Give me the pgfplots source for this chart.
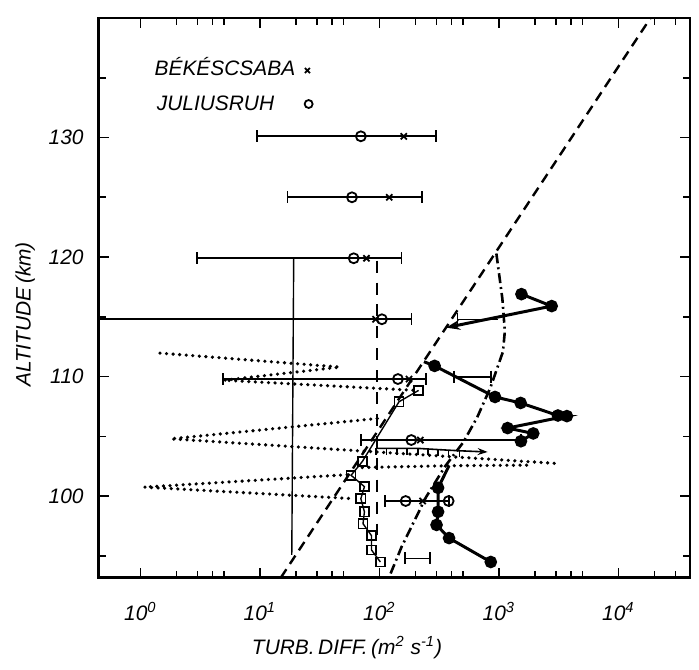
\documentclass[border=0pt]{standalone}
\usepackage{fontspec}
\setmainfont{Liberation Sans}
\usepackage{pgfplots}
\pgfplotsset{compat=1.18}
\usetikzlibrary{calc,arrows.meta}

\pgfplotsset{
  errbar/.style={black, line width=0.9pt, mark=|, mark size=3pt, mark options={solid,line width=0.9pt}},
  opencirc/.style={black, only marks, mark=o, mark size=2.5pt, mark options={fill=white,line width=0.9pt}},
  cross/.style={black, only marks, mark=x, mark size=2.2pt, mark options={line width=0.9pt}},
  filled/.style={black, line width=1.5pt, mark=*, mark size=2.4pt},
  dots/.style={black, line width=1.8pt, line cap=round, dash pattern=on 0pt off 3.3pt},
}

\begin{document}
\begin{tikzpicture}[font=\itshape]
\begin{axis}[
  scale only axis,
  width=297pt, height=281pt,
  xmode=log,
  xmin=0.447, xmax=39800,
  ymin=93.2, ymax=140,
  clip=false,
  axis line style={line width=1.1pt},
  tick align=inside,
  tick style={black, line width=0.8pt},
  major tick length=5pt,
  minor tick length=3.5pt,
  xtick={1,10,100,1000,10000},
  xticklabels={10\textsuperscript{0},10\textsuperscript{1},10\textsuperscript{2},10\textsuperscript{3},10\textsuperscript{4}},
  minor xtick={2,3,4,5,20,30,40,50,200,300,400,500,2000,3000,4000,5000,20000,30000},
  ytick={100,110,120,130},
  minor ytick={95,105,115,125,135},
  /pgf/number format/assume math mode=true,
  tick label style={font=\itshape\fontsize{10.5}{12}\selectfont},
  xticklabel style={yshift=-9pt},
  yticklabel style={xshift=-4pt},
  xlabel={TURB.\,DIFF.\,(m\textsuperscript{2} s\textsuperscript{-1})},
  ylabel={ALTITUDE\,(km)},
  label style={font=\itshape\fontsize{10.5}{12}\selectfont},
  xlabel style={at={(ticklabel cs:0.42)}, yshift=-1pt},
  ylabel style={at={(ticklabel cs:0.47)}},
]
\coordinate (sw) at (rel axis cs:0,0);
\coordinate (ne) at (rel axis cs:1,1);

% model profiles
\addplot[black, line width=1.2pt, dash pattern=on 5pt off 3.2pt] coordinates {(15,93.2) (18600,140)};
\addplot[black, line width=1.3pt, dash pattern=on 5pt off 2pt on 1pt off 2pt] coordinates {
  (953,120.3) (1069,116.55) (1122,113.8) (1083,112.1) (851,109.1) (659,106.6)
  (503,104.5) (355,102.5) (245,99.9) (154,95.8) (122,93.35)};
\addplot[black, line width=0.7pt] coordinates {(19.2,120.0) (18.5,95.1)};
\addplot[black, line width=1pt, dash pattern=on 6pt off 5pt] coordinates {(96,119.7) (96,96.3)};

% dotted zigzag profile
\addplot[dots] coordinates {(1.46,111.97) (46.7,110.8) (5.0,109.7) (193,108.86)};
\addplot[dots] coordinates {(96,106.5) (1.8,104.8) (2940,102.75)};
\addplot[dots] coordinates {(72,102.4) (383,102.55) (1888,102.6)};
\addplot[dots] coordinates {(53.7,101.8) (1.08,100.76) (59,99.8)};

% error bars (Bekescsaba x, Juliusruh o)
\addplot[errbar] coordinates {(9.5,130.1) (300,130.1)};
\addplot[errbar] coordinates {(17,125.0) (228,125.0)};
\addplot[errbar] coordinates {(3.0,119.9) (153,119.9)};
\addplot[errbar, mark indices={2}] coordinates {(0.447,114.8) (186,114.8)};
\addplot[errbar] coordinates {(4.9,109.8) (245,109.8)};
\addplot[errbar] coordinates {(70,104.7) (1530,104.7)};
\addplot[errbar] coordinates {(111,99.6) (380,99.6)};
\addplot[errbar] coordinates {(422,110.0) (857,110.0)};
\addplot[errbar] coordinates {(164,94.8) (266,94.8)};
\addplot[errbar, line width=0.6pt, mark indices={1}] coordinates {(450,114.8) (990,114.8)};
\addplot[cross] coordinates {(160,130.1) (121,125.0) (78,119.9) (93,114.8) (177,109.8) (220,104.7) (230,99.6)};

% comb line with arrow
\addplot[black, line width=0.8pt, -{Stealth[length=5pt,width=3.5pt]}, mark=|, mark size=1.6pt,
  mark options={yshift=-1.6pt, line width=0.7pt}, mark indices={1,2,3,4,5,6,7,8,9}]
  coordinates {(94,104.0) (115,104.0) (140,104.0) (170,104.0) (210,104.0) (255,103.95) (310,103.9) (380,103.85) (470,103.8) (805,103.7)};

% open squares
\addplot[black, line width=0.7pt, mark=square, mark size=2.3pt, mark options={fill=white,line width=0.8pt}] coordinates {
  (213,108.85) (146,107.9) (72,102.9) (58,101.75) (75,100.8) (70,99.8)
  (75,98.7) (73,97.7) (86,96.7) (86,95.5) (102,94.5)};

% filled circles
\addplot[filled, mark indices={1,2}, -{Stealth[length=7pt,width=5pt]}] coordinates {(1545,116.9) (2767,115.9) (362,114.1)};
\addplot[filled, mark indices={2,3,4,5,6,7,8,9,10}] coordinates {
  (236,111.25) (290,110.9) (929,108.3) (1521,107.8) (3120,106.75) (3710,106.7)
  (1183,105.7) (1940,105.25) (1531,104.6)};
\addplot[filled, mark indices={2,3,4,5,6}] coordinates {
  (383,102.55) (310,100.7) (310,98.7) (301,97.6) (383,96.5) (856,94.5)};

\addplot[opencirc] coordinates {(70,130.1) (59,125.0) (61,119.9) (105,114.8) (143,109.8) (185,104.7) (166,99.6) (380,99.6)};

% key
\node[anchor=west, font=\itshape\fontsize{10.5}{12}\selectfont] at (axis cs:1.15,135.9) {BÉKÉSCSABA};
\node[anchor=west, font=\itshape\fontsize{10.5}{12}\selectfont] at (axis cs:1.2,132.9) {JULIUSRUH};
\addplot[cross, mark size=1.8pt] coordinates {(25,135.6)};
\addplot[opencirc, mark size=2pt] coordinates {(25.6,132.8)};
\end{axis}
\pgfresetboundingbox
\path[use as bounding box] ($(sw)+(-49.5pt,-46pt)$) rectangle ($(ne)+(4.5pt,9pt)$);
\end{tikzpicture}
\end{document}
